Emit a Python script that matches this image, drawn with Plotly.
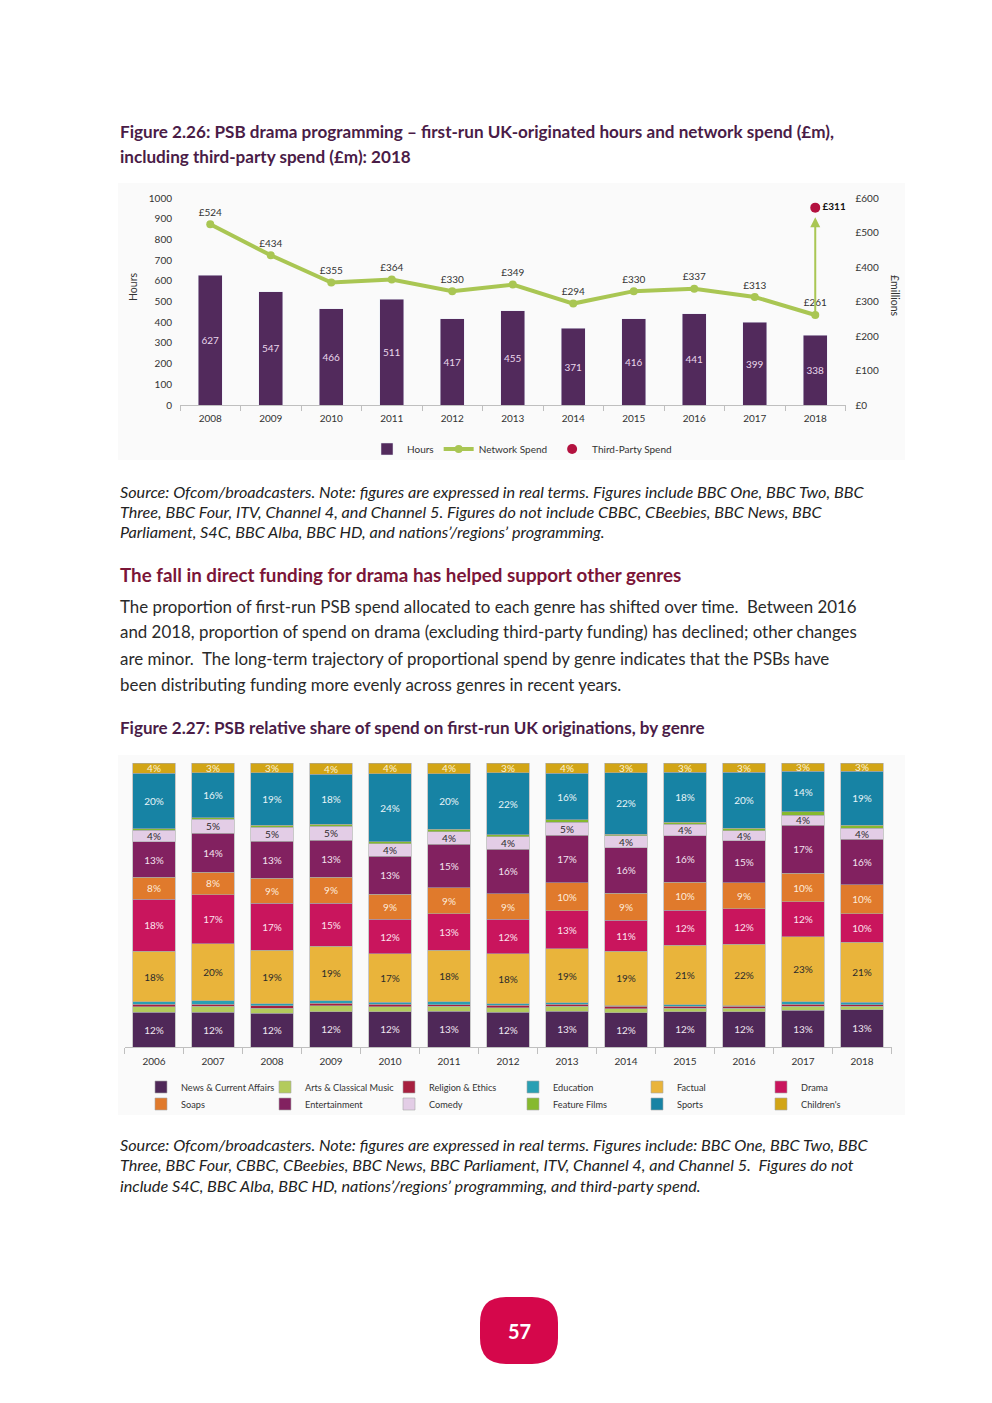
import plotly.graph_objects as go

W, H = 992, 1403
def px(x): return x / W
def py(y): return 1 - y / H

FONT = "Lato, 'Open Sans', sans-serif"

# ---------------- Figure 2.26 data ----------------
years_1 = ["2008", "2009", "2010", "2011", "2012", "2013", "2014", "2015", "2016", "2017", "2018"]
hours = [627, 547, 466, 511, 417, 455, 371, 416, 441, 399, 338]
network_spend = [524, 434, 355, 364, 330, 349, 294, 330, 337, 313, 261]
third_party_spend = 311  # 2018, stacked on top of network spend

# ---------------- Figure 2.27 data ----------------
years_2 = ["2006", "2007", "2008", "2009", "2010", "2011", "2012", "2013", "2014", "2015", "2016", "2017", "2018"]
news = [12.2, 12.3, 11.9, 12.4, 12.4, 12.6, 12.2, 12.6, 12.0, 12.4, 12.4, 12.9, 13.1]
arts = [2.0, 2.0, 1.8, 2.2, 1.8, 1.7, 1.7, 1.8, 1.5, 1.3, 1.3, 1.5, 1.2]
religion = [0.8, 0.8, 0.8, 0.8, 0.8, 0.5, 0.8, 0.6, 0.8, 0.6, 0.6, 0.7, 0.6]
education = [0.9, 1.2, 0.8, 0.9, 0.8, 1.1, 0.6, 0.6, 0.3, 0.5, 0.3, 0.8, 0.9]
factual = [17.8, 20.0, 18.7, 19.2, 17.1, 18.1, 17.6, 19.0, 19.2, 21.0, 21.6, 22.9, 21.1]
drama = [18.4, 17.3, 16.6, 15.1, 12.0, 13.0, 12.0, 13.3, 10.9, 12.4, 12.4, 12.4, 10.1]
soaps = [7.6, 8.0, 8.8, 9.2, 8.9, 9.0, 9.0, 10.0, 9.4, 9.8, 9.2, 9.9, 10.1]
entertainment = [12.6, 13.6, 13.1, 13.0, 13.4, 15.4, 15.8, 16.6, 16.1, 16.4, 14.8, 16.9, 16.0]
comedy = [4.0, 5.0, 4.9, 4.9, 4.4, 4.4, 4.3, 4.7, 4.1, 4.1, 3.6, 3.6, 3.9]
feature_films = [0.5, 0.6, 0.6, 0.8, 0.7, 0.9, 0.7, 0.8, 0.7, 0.7, 0.9, 1.2, 1.0]
sports = [19.6, 15.8, 18.6, 17.6, 24.0, 19.6, 21.9, 16.4, 21.6, 17.6, 19.7, 14.3, 19.1]
childrens = [3.6, 3.4, 3.4, 3.9, 3.7, 3.7, 3.4, 3.6, 3.4, 3.2, 3.2, 2.9, 2.9]

genres = [
    ("News & Current Affairs", news, "#4f2858", "#f0e6f0"),
    ("Arts & Classical Music", arts, "#b3cb5c", "#333333"),
    ("Religion & Ethics", religion, "#a7203f", "#ffffff"),
    ("Education", education, "#2a9fb3", "#ffffff"),
    ("Factual", factual, "#e9b43b", "#2b2b2b"),
    ("Drama", drama, "#c9155d", "#fbe3ee"),
    ("Soaps", soaps, "#e07a2c", "#fdebdc"),
    ("Entertainment", entertainment, "#822160", "#f3e3ef"),
    ("Comedy", comedy, "#e3cde6", "#2b2b2b"),
    ("Feature Films", feature_films, "#86b92e", "#ffffff"),
    ("Sports", sports, "#1783a4", "#e8f4f8"),
    ("Children's", childrens, "#d2a516", "#fbf3d8"),
]

fig = go.Figure()

# ---- Chart 1 ----
fig.add_trace(go.Bar(
    x=years_1, y=hours, name="Hours", width=0.4,
    marker=dict(color="#522a5c"),
    text=[str(v) for v in hours], textposition="inside", insidetextanchor="middle", textangle=0,
    textfont=dict(size=10, color="#ead8ec", family=FONT),
    xaxis="x", yaxis="y", legend="legend",
))
fig.add_trace(go.Scatter(
    x=years_1, y=network_spend, name="Network Spend", mode="lines+markers+text",
    line=dict(color="#a9c653", width=4), marker=dict(color="#a9c653", size=8),
    text=[f"£{v}" for v in network_spend], textposition="top center",
    textfont=dict(size=10, color="#333333", family=FONT),
    xaxis="x", yaxis="y2", legend="legend",
))
fig.add_trace(go.Scatter(
    x=[years_1[-1]], y=[network_spend[-1] + third_party_spend], name="Third-Party Spend",
    mode="markers+text", marker=dict(color="#b3113f", size=10),
    text=[f"<b>£{third_party_spend}</b>"], textposition="middle right",
    textfont=dict(size=10, color="#111111", family=FONT),
    xaxis="x", yaxis="y2", legend="legend",
))

# ---- Chart 2 ----
for i, (name, vals, col, tcol) in enumerate(genres):
    fig.add_trace(go.Bar(
        x=years_2, y=vals, name=name, width=0.72,
        marker=dict(color=col, line=dict(color="#a8a8a8", width=0.6)),
        text=[f"{v:.0f}%" if v >= 2.5 else "" for v in vals],
        textposition="inside", insidetextanchor="middle", textangle=0,
        textfont=dict(size=10, color=tcol, family=FONT),
        xaxis="x2", yaxis="y3", legend="legend2" if i < 6 else "legend3",
    ))

axis_tick_font = dict(size=10, color="#333333", family=FONT)

annotations = []
def text_ann(x, y, s, size, color="#222222", anchor="left"):
    annotations.append(dict(x=px(x), y=py(y), xref="paper", yref="paper", text=s,
                            showarrow=False, xanchor=anchor, yanchor="middle",
                            font=dict(size=size, color=color, family=FONT)))

TITLE_COL = "#4a1c47"
text_ann(118, 131, "<b>Figure 2.26: PSB drama programming – first-run UK-originated hours and network spend (£m),</b>", 17.1, TITLE_COL)
text_ann(118, 157, "<b>including third-party spend (£m): 2018</b>", 17.1, TITLE_COL)

src1 = ["Source: Ofcom/broadcasters. Note: figures are expressed in real terms. Figures include BBC One, BBC Two, BBC",
        "Three, BBC Four, ITV, Channel 4, and Channel 5. Figures do not include CBBC, CBeebies, BBC News, BBC",
        "Parliament, S4C, BBC Alba, BBC HD, and nations’/regions’ programming."]
for i, s in enumerate(src1):
    text_ann(118, 491 + 20 * i, f"<i>{s}</i>", 16.2, "#222222")

text_ann(118, 574, "<b>The fall in direct funding for drama has helped support other genres</b>", 18.8, "#7b1538")

para = ["The proportion of first-run PSB spend allocated to each genre has shifted over time.  Between 2016",
        "and 2018, proportion of spend on drama (excluding third-party funding) has declined; other changes",
        "are minor.  The long-term trajectory of proportional spend by genre indicates that the PSBs have",
        "been distributing funding more evenly across genres in recent years."]
for i, s in enumerate(para):
    text_ann(118, 606 + 26 * i, s, 16.9, "#2a2a2a")

text_ann(118, 727, "<b>Figure 2.27: PSB relative share of spend on first-run UK originations, by genre</b>", 17, TITLE_COL)

src2 = ["Source: Ofcom/broadcasters. Note: figures are expressed in real terms. Figures include: BBC One, BBC Two, BBC",
        "Three, BBC Four, CBBC, CBeebies, BBC News, BBC Parliament, ITV, Channel 4, and Channel 5.  Figures do not",
        "include S4C, BBC Alba, BBC HD, nations’/regions’ programming, and third-party spend."]
for i, s in enumerate(src2):
    text_ann(118, 1144 + 20.5 * i, f"<i>{s}</i>", 16.2, "#222222")

# axis titles for chart 1
annotations.append(dict(x=px(133), y=py(287), xref="paper", yref="paper", text="Hours", textangle=-90,
                        xanchor="center", yanchor="middle",
                        showarrow=False, font=dict(size=10.5, color="#333333", family=FONT)))
annotations.append(dict(x=px(895), y=py(296), xref="paper", yref="paper", text="£millions", textangle=90,
                        xanchor="center", yanchor="middle",
                        showarrow=False, font=dict(size=10.5, color="#333333", family=FONT)))

# arrow for third-party spend
last = len(years_1) - 1
annotations.append(dict(x=last, y=network_spend[-1] + third_party_spend - 28, xref="x", yref="y2",
                        ax=last, ay=network_spend[-1], axref="x", ayref="y2",
                        showarrow=True, arrowhead=2, arrowsize=1, arrowwidth=2, arrowcolor="#a9c653", text=""))

# page number
text_ann(519, 1331, "<b>57</b>", 20, "#ffffff", anchor="center")

def rounded_rect(x0, y0, x1, y1, r):
    def P(x, y): return f"{px(x)},{py(y)}"
    return (f"M {P(x0 + r, y0)} L {P(x1 - r, y0)} Q {P(x1, y0)} {P(x1, y0 + r)} "
            f"L {P(x1, y1 - r)} Q {P(x1, y1)} {P(x1 - r, y1)} L {P(x0 + r, y1)} "
            f"Q {P(x0, y1)} {P(x0, y1 - r)} L {P(x0, y0 + r)} Q {P(x0, y0)} {P(x0 + r, y0)} Z")

shapes = [
    dict(type="rect", xref="paper", yref="paper", x0=px(118), x1=px(905), y0=py(460), y1=py(183),
         fillcolor="#fafafa", line=dict(width=0), layer="below"),
    dict(type="rect", xref="paper", yref="paper", x0=px(118), x1=px(905), y0=py(1115), y1=py(755),
         fillcolor="#fafafa", line=dict(width=0), layer="below"),
    dict(type="path", xref="paper", yref="paper", path=rounded_rect(480, 1297, 558, 1364, 26),
         fillcolor="#d5074b", line=dict(width=0)),
]

legend_font = dict(size=10, color="#333333", family=FONT)
legend_font_2 = dict(size=9.2, color="#333333", family=FONT)
fig.update_layout(
    width=W, height=H, margin=dict(l=0, r=0, t=0, b=0, autoexpand=False),
    paper_bgcolor="white", plot_bgcolor="rgba(0,0,0,0)",
    font=dict(family=FONT, color="#333333"),
    barmode="stack",
    uniformtext=dict(minsize=10, mode="show"),
    xaxis=dict(domain=[px(180), px(845.5)], anchor="y", type="category", range=[-0.5, len(years_1) - 0.5],
               showline=True, linecolor="#bfbfbf", ticks="outside", tickson="boundaries",
               ticklen=5, tickcolor="#bfbfbf", tickfont=axis_tick_font, showgrid=False,
               ticklabelstandoff=4),
    yaxis=dict(domain=[py(405), py(198)], range=[0, 1000], dtick=100, showgrid=False,
               zeroline=False, tickfont=axis_tick_font, ticks="", ticklabelstandoff=7),
    yaxis2=dict(overlaying="y", side="right", anchor="x", range=[0, 600], dtick=100,
                tickprefix="£", showgrid=False, zeroline=False, tickfont=axis_tick_font,
                ticklabelstandoff=9),
    xaxis2=dict(domain=[px(124.5), px(891.5)], anchor="y3", type="category", range=[-0.5, len(years_2) - 0.5],
                showline=True, linecolor="#bfbfbf", ticks="outside", tickson="boundaries",
                ticklen=6, tickcolor="#bfbfbf", tickfont=axis_tick_font, showgrid=False,
                ticklabelstandoff=5),
    yaxis3=dict(domain=[py(1047), py(763)], anchor="x2", range=[0, 100], visible=False),
    legend=dict(orientation="h", traceorder="normal", x=px(367), y=py(449), xanchor="left", yanchor="middle",
                font=legend_font, bgcolor="rgba(0,0,0,0)"),
    legend2=dict(orientation="h", traceorder="normal", x=px(141), y=py(1087), xanchor="left", yanchor="middle",
                 entrywidth=79, entrywidthmode="pixels",
                 font=legend_font_2, bgcolor="rgba(0,0,0,0)"),
    legend3=dict(orientation="h", traceorder="normal", x=px(141), y=py(1104), xanchor="left", yanchor="middle",
                 entrywidth=79, entrywidthmode="pixels",
                 font=legend_font_2, bgcolor="rgba(0,0,0,0)"),
    annotations=annotations,
    shapes=shapes,
)

fig.write_html("out.html", config={"displayModeBar": False},
               post_script="document.body.style.margin='0';document.body.style.overflow='hidden';")
